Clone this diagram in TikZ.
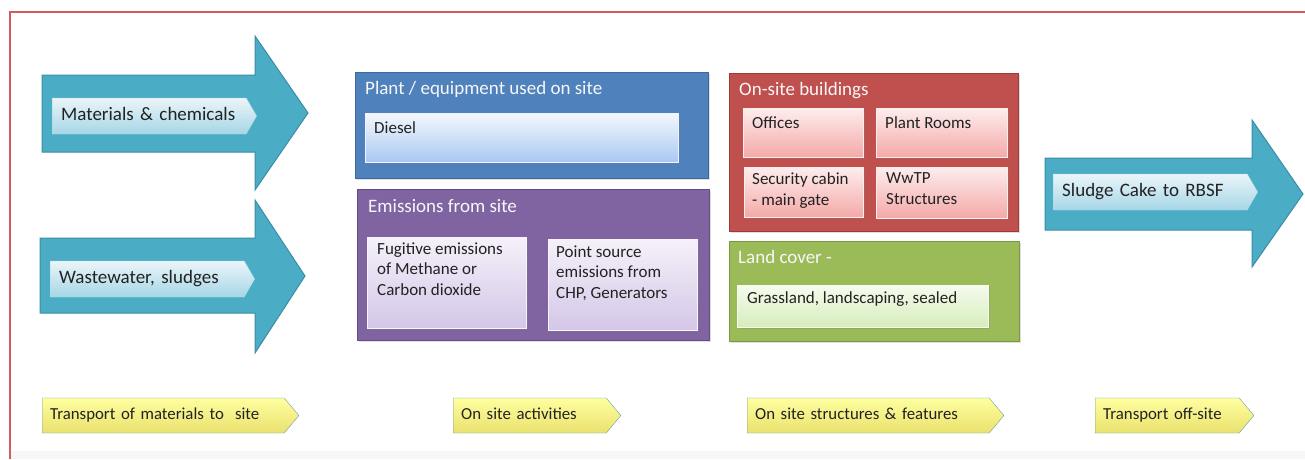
\documentclass[tikz,border=0pt]{standalone}
\usepackage{fontspec}
\setmainfont{Carlito}
\usetikzlibrary{shapes.symbols,shadows}

\definecolor{framered}{HTML}{D25B5B}
\definecolor{ink}{HTML}{222222}
\definecolor{arrowfill}{HTML}{4BACC6}
\definecolor{arrowedge}{HTML}{3A8EA6}
\definecolor{tagtop}{HTML}{EAF5F9}
\definecolor{tagbot}{HTML}{A6D6E6}
\definecolor{tagedge}{HTML}{B4DAE6}
\definecolor{plantfill}{HTML}{4F81BD}
\definecolor{plantedge}{HTML}{3D6A9E}
\definecolor{dieseltop}{HTML}{F4F8FD}
\definecolor{dieselbot}{HTML}{A9C8F3}
\definecolor{emisfill}{HTML}{8064A2}
\definecolor{emisedge}{HTML}{654D84}
\definecolor{emistop}{HTML}{F5F1F9}
\definecolor{emisbot}{HTML}{D4C6E8}
\definecolor{bldgfill}{HTML}{C0504D}
\definecolor{bldgedge}{HTML}{9A3C3A}
\definecolor{bldgtop}{HTML}{FDEDED}
\definecolor{bldgbot}{HTML}{F4A9A7}
\definecolor{landfill}{HTML}{9BBB59}
\definecolor{landedge}{HTML}{7C9845}
\definecolor{landtop}{HTML}{F6FBEE}
\definecolor{landbot}{HTML}{D6EDBB}
\definecolor{stagetop}{HTML}{FFFFA0}
\definecolor{stagebot}{HTML}{EAE16E}
\definecolor{stageedge}{HTML}{6E9FAA}

\begin{document}
\begin{tikzpicture}[x=1pt,y=-1pt,
  flow/.style={fill=arrowfill,draw=arrowedge,line width=1pt,line join=miter},
  tag/.style={signal,signal to=east,signal pointer angle=120,anchor=west,
    draw=tagedge,top color=tagtop,bottom color=tagbot,text=ink,text width=176,
    text height=13,text depth=4.5,
    font=\fontsize{19}{23}\selectfont,minimum height=36,inner xsep=9,inner ysep=0,align=left},
  stage/.style={signal,signal to=east,signal pointer angle=100,anchor=west,
    draw=stageedge,top color=stagetop,bottom color=stagebot,text=ink,
    text height=11.5,text depth=3.5,
    font=\fontsize{16.8}{20}\selectfont,minimum height=35,inner xsep=8,inner ysep=0,align=left},
  panel/.style={anchor=north west,inner sep=0,line width=1pt,
    drop shadow={shadow xshift=1pt,shadow yshift=-1.5pt,opacity=.25}},
  box/.style={anchor=north west,inner sep=0,line width=.6pt,
    drop shadow={shadow xshift=1.2pt,shadow yshift=-1.8pt,opacity=.3}},
  title/.style={anchor=base west,inner sep=0,text=white!94!gray,font=\fontsize{19}{23}\selectfont},
  item/.style={anchor=north west,inner sep=0,align=left,text=ink,
    font=\fontsize{17}{20.5}\selectfont,execute at begin node=\strut}]

  \useasboundingbox (0,0) rectangle (1305,459);
  \fill[white] (0,0) rectangle (1305,459);
  \fill[black!3] (10,451) rectangle (1305,459);
  \draw[framered,line width=2pt] (10,459) -- (10,12) -- (1305,12);

  \draw[flow] (42,75) -- (255,75) -- (255,36) -- (308,113) -- (255,190) -- (255,152) -- (42,152) -- cycle;
  \draw[flow] (40,238) -- (255,238) -- (255,200) -- (305,276) -- (255,353) -- (255,313) -- (40,313) -- cycle;
  \draw[flow] (1045,158) -- (1252,158) -- (1252,120) -- (1303,194) -- (1252,267) -- (1252,230) -- (1045,230) -- cycle;

  \node[tag] (materials) at (52,116) {Materials \& chemicals};
  \node[tag] (wastewater) at (50,279) {Wastewater, sludges};
  \node[tag] (sludge) at (1053,192) {Sludge Cake to RBSF};

  \node[panel,fill=plantfill,draw=plantedge,minimum width=353,minimum height=106] (plant) at (355,72) {};
  \node[title] (plantttl) at (365,94) {Plant / equipment used on site};
  \node[box,top color=dieseltop,bottom color=dieselbot,draw=white!80!dieselbot,minimum width=313,minimum height=49] (diesel) at (365,113) {};
  \node[item] (dieseltxt) at (374,118.5) {Diesel};

  \node[panel,fill=emisfill,draw=emisedge,minimum width=352,minimum height=151] (emis) at (357,189) {};
  \node[title] (emisttl) at (368,212) {Emissions from site};
  \node[box,top color=emistop,bottom color=emisbot,draw=white!80!emisbot,minimum width=159,minimum height=91] (fugitive) at (367,237) {};
  \node[item] (fugitivetxt) at (377,242.5) {Fugitive emissions\\of Methane or\\Carbon dioxide};
  \node[box,top color=emistop,bottom color=emisbot,draw=white!80!emisbot,minimum width=149,minimum height=91] (pointsrc) at (548,239) {};
  \node[item] (pointsrctxt) at (556,245.5) {Point source\\emissions from\\CHP, Generators};

  \node[panel,fill=bldgfill,draw=bldgedge,minimum width=289,minimum height=158] (bldg) at (729,73) {};
  \node[title] (bldgttl) at (739,95) {On-site buildings};
  \node[box,top color=bldgtop,bottom color=bldgbot,draw=white!80!bldgbot,minimum width=120,minimum height=49] (offices) at (743,108) {};
  \node[item] (officestxt) at (752,113.5) {Offices};
  \node[box,top color=bldgtop,bottom color=bldgbot,draw=white!80!bldgbot,minimum width=131,minimum height=49] (plantrooms) at (876,108) {};
  \node[item] (plantroomstxt) at (885,113.5) {Plant Rooms};
  \node[box,top color=bldgtop,bottom color=bldgbot,draw=white!80!bldgbot,minimum width=119,minimum height=50] (security) at (744,167) {};
  \node[item] (securitytxt) at (752,172.5) {Security cabin\\- main gate};
  \node[box,top color=bldgtop,bottom color=bldgbot,draw=white!80!bldgbot,minimum width=131,minimum height=51] (wwtp) at (876,167) {};
  \node[item] (wwtptxt) at (886,172.5) {WwTP\\Structures};

  \node[panel,fill=landfill,draw=landedge,minimum width=290,minimum height=100] (land) at (729,241) {};
  \node[title] (landttl) at (738,263) {Land cover -};
  \node[box,top color=landtop,bottom color=landbot,draw=white!80!landbot,minimum width=251,minimum height=42] (grass) at (737,285) {};
  \node[item] (grasstxt) at (747,288.5) {Grassland, landscaping, sealed};

  \node[stage,text width=226] (toSite) at (42,415.5) {Transport of materials to~~site};
  \node[stage,text width=137] (onSite) at (453,415.5) {On site activities};
  \node[stage,text width=226] (features) at (747,415.5) {On site structures \& features};
  \node[stage,text width=128] (offSite) at (1095,415.5) {Transport off-site};
\end{tikzpicture}
\end{document}
